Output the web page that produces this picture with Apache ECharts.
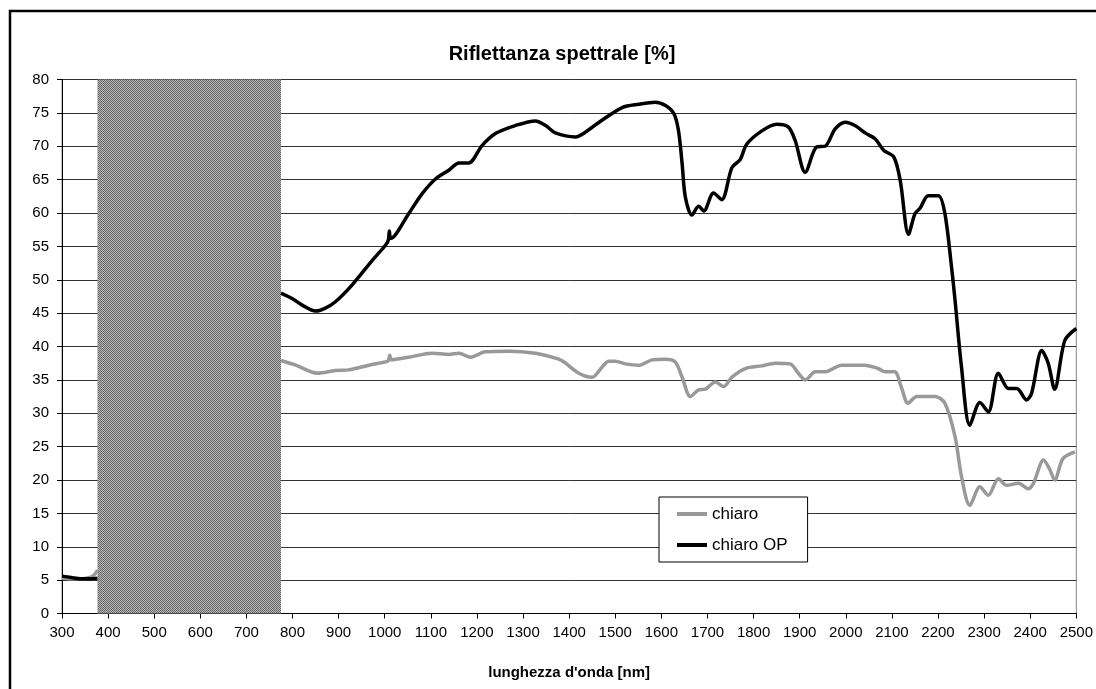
<!DOCTYPE html>
<html>
<head>
<meta charset="utf-8">
<script src="https://cdn.jsdelivr.net/npm/echarts@6/dist/echarts.min.js"></script>
<style>
  html, body { margin: 0; padding: 0; background: #fff; }
  #chart { width: 1096px; height: 689px; }
</style>
</head>
<body>
<div id="chart"></div>
<script>
// wavelength [nm] and reflectance [%]; null = hidden behind the shaded band
const chiaroNm = [300, 320, 340, 360, 370, 377, 580,
  775, 807, 854, 893, 922, 966, 1002, 1008, 1011, 1014, 1052, 1103, 1139, 1161, 1186, 1218, 1269, 1327,
  1363, 1384, 1421, 1450, 1471, 1486, 1500, 1522, 1551, 1580, 1609, 1630, 1645, 1663, 1681, 1695,
  1717, 1735, 1753, 1782, 1818, 1847, 1879, 1897, 1912, 1934, 1955, 1991, 2041, 2070, 2085, 2106,
  2120, 2135, 2154, 2194, 2215, 2237, 2251, 2269, 2291, 2309, 2331, 2349, 2374, 2396, 2407, 2429,
  2443, 2453, 2471, 2497]
const chiaroVal = [5.3, 5.2, 5.2, 5.4, 5.8, 6.5, null,
  37.9, 37.2, 36.0, 36.4, 36.5, 37.2, 37.7, 37.9, 38.7, 38.0, 38.4, 39.0, 38.8, 39.0, 38.4, 39.2, 39.3, 39.0,
  38.4, 37.9, 36.0, 35.4, 36.9, 37.8, 37.8, 37.4, 37.2, 38.0, 38.1, 37.7, 35.4, 32.5, 33.5, 33.6,
  34.7, 34.0, 35.4, 36.7, 37.1, 37.5, 37.4, 36.0, 35.0, 36.2, 36.2, 37.2, 37.2, 36.7, 36.2, 36.2,
  34.0, 31.5, 32.5, 32.5, 31.5, 26.5, 20.5, 16.2, 19.0, 17.7, 20.2, 19.2, 19.5, 18.7, 19.5, 23.0,
  21.5, 20.0, 23.2, 24.2]

const opNm = [300, 320, 340, 360, 377, 580,
  775, 799, 821, 850, 870, 893, 929, 973, 1002, 1008, 1010, 1013, 1052, 1080, 1110, 1139, 1161, 1182,
  1211, 1240, 1283, 1327, 1349, 1370, 1414, 1435, 1465, 1515, 1551, 1587, 1609, 1627, 1637, 1645,
  1652, 1666, 1681, 1692, 1713, 1731, 1753, 1771, 1785, 1818, 1850, 1875, 1890, 1912, 1937, 1955,
  1977, 1999, 2020, 2042, 2064, 2082, 2104, 2118, 2136, 2150, 2161, 2179, 2201, 2215, 2230, 2237,
  2251, 2269, 2291, 2309, 2331, 2353, 2371, 2392, 2403, 2425, 2439, 2453, 2475, 2500]
const opVal = [5.6, 5.4, 5.2, 5.2, 5.3, null,
  48.0, 47.2, 46.2, 45.3, 45.7, 46.7, 49.2, 52.9, 55.2, 56.0, 57.3, 56.2, 59.9, 62.8, 65.1, 66.4, 67.5, 67.5,
  70.1, 71.9, 73.1, 73.8, 73.1, 72.0, 71.4, 72.1, 73.6, 75.8, 76.3, 76.6, 76.1, 74.9, 72.4, 67.4,
  62.4, 59.7, 61.0, 60.3, 63.0, 62.0, 66.8, 68.0, 70.3, 72.3, 73.3, 72.9, 70.9, 66.1, 69.9, 70.0,
  72.6, 73.6, 73.1, 72.0, 71.1, 69.4, 68.4, 64.9, 56.8, 59.9, 60.7, 62.6, 62.6, 59.9, 51.5, 46.9,
  36.9, 28.2, 31.6, 30.2, 36.0, 33.7, 33.7, 32.0, 33.0, 39.4, 37.5, 33.6, 40.9, 42.7]

const seriesNames = ['chiaro', 'chiaro OP']
const bandRange = [377, 775]

const font = 'Liberation Sans, Arial, sans-serif'

const toPairs = (xs, ys) => xs.map((x, i) => [x, ys[i] === null ? '-' : ys[i]])

// checkered fill for the shaded band
const patternCanvas = document.createElement('canvas')
patternCanvas.width = 2
patternCanvas.height = 2
const pctx = patternCanvas.getContext('2d')
pctx.fillStyle = '#b8b8b8'
pctx.fillRect(0, 0, 2, 2)
pctx.fillStyle = '#666'
pctx.fillRect(0, 0, 1, 1)
pctx.fillRect(1, 1, 1, 1)

const chart = echarts.init(document.getElementById('chart'))

chart.setOption({
  animation: false,
  backgroundColor: '#fff',
  title: {
    text: 'Riflettanza spettrale [%]',
    left: 557,
    top: 39,
    textAlign: 'center',
    textStyle: { fontFamily: font, fontSize: 20, fontWeight: 'bold', color: '#000' }
  },
  graphic: [{
    type: 'polyline',
    shape: { points: [[10, 800], [10, 11], [1300, 11]] },
    style: { fill: null, stroke: '#000', lineWidth: 2.5 },
    silent: true
  }],
  legend: {
    orient: 'vertical',
    left: 659,
    top: 497,
    data: seriesNames,
    backgroundColor: '#fff',
    borderColor: '#000',
    borderWidth: 1,
    padding: [7, 20, 7, 18],
    itemWidth: 30,
    itemHeight: 4,
    itemGap: 11,
    icon: 'rect',
    textStyle: { fontFamily: font, fontSize: 17, color: '#000', lineHeight: 20 }
  },
  grid: {
    left: 62,
    right: 18,
    top: 79.5,
    bottom: 75.5,
    show: true,
    borderColor: '#888',
    borderWidth: 1
  },
  xAxis: {
    type: 'value',
    min: 300,
    max: 2500,
    interval: 100,
    name: "lunghezza d'onda [nm]",
    nameLocation: 'middle',
    nameGap: 52,
    nameTextStyle: { fontFamily: font, fontSize: 15, fontWeight: 'bold', color: '#000' },
    axisLine: { lineStyle: { color: '#000', width: 1 } },
    axisTick: { show: true, length: 5, lineStyle: { color: '#000' } },
    axisLabel: { fontFamily: font, fontSize: 15, color: '#000', margin: 12, formatter: v => String(v) },
    splitLine: { show: false }
  },
  yAxis: {
    type: 'value',
    min: 0,
    max: 80,
    interval: 5,
    axisLine: { show: true, lineStyle: { color: '#000', width: 1 } },
    axisTick: { show: true, length: 5, lineStyle: { color: '#000' } },
    axisLabel: { fontFamily: font, fontSize: 15, color: '#000', margin: 13 },
    splitLine: { lineStyle: { color: '#333', width: 1 } }
  },
  series: [
    {
      name: seriesNames[0],
      type: 'line',
      data: toPairs(chiaroNm, chiaroVal),
      showSymbol: false,
      smooth: 0.3,
      connectNulls: false,
      color: '#999',
      lineStyle: { color: '#999', width: 3.5 }
    },
    {
      name: seriesNames[1],
      type: 'line',
      data: toPairs(opNm, opVal),
      showSymbol: false,
      smooth: 0.3,
      connectNulls: false,
      color: '#000',
      lineStyle: { color: '#000', width: 3.5 }
    },
    {
      // shaded band, drawn over the curves
      name: 'band',
      type: 'line',
      z: 5,
      data: bandRange.map(x => [x, 0]),
      showSymbol: false,
      lineStyle: { opacity: 0 },
      markArea: {
        silent: true,
        itemStyle: { color: { image: patternCanvas, repeat: 'repeat' } },
        data: [[{ xAxis: bandRange[0] }, { xAxis: bandRange[1] }]]
      }
    }
  ]
})

window.addEventListener('resize', () => chart.resize())
</script>
</body>
</html>
